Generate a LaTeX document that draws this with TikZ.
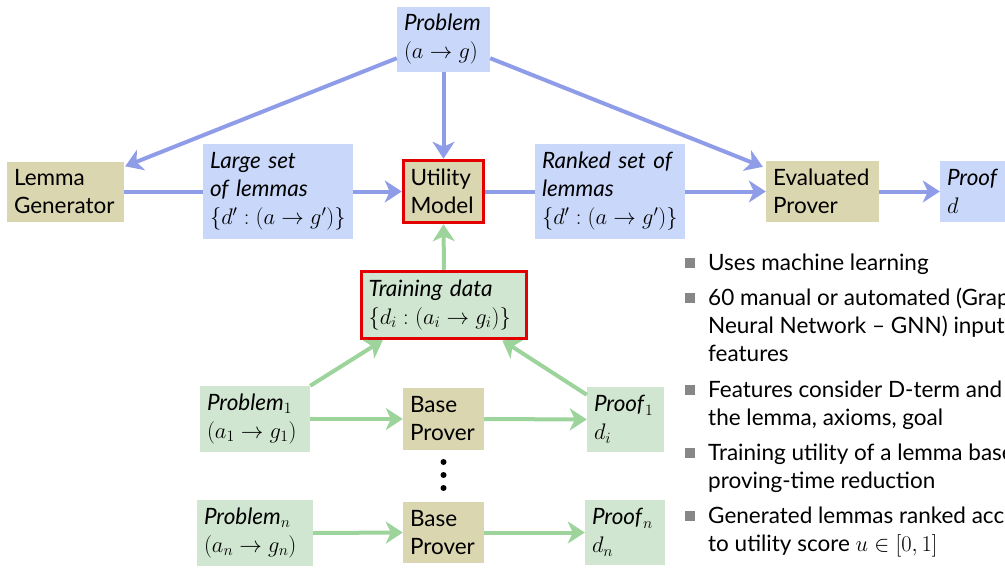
\RequirePackage{fix-cm}
\documentclass[tikz,border=0pt]{standalone}
\usepackage[no-math]{fontspec}
\setmainfont{Lato}
\usetikzlibrary{arrows.meta,calc}

\definecolor{boxblue}{RGB}{201,216,250}
\definecolor{boxgreen}{RGB}{208,230,208}
\definecolor{boxkhaki}{RGB}{218,214,176}
\definecolor{arrblue}{RGB}{143,156,232}
\definecolor{arrgreen}{RGB}{156,212,156}
\definecolor{hilite}{RGB}{226,0,0}
\definecolor{bulletgray}{RGB}{135,135,135}

\tikzset{
  every node/.style={font=\fontsize{22.5}{28}\selectfont},
  card/.style args={#1/#2}{rectangle, inner xsep=7pt, inner ysep=0pt,
    text width=#1pt-14pt, minimum height=#2pt, align=left},
  bluecard/.style={card=#1, fill=boxblue},
  greencard/.style={card=#1, fill=boxgreen},
  khakicard/.style={card=#1, fill=boxkhaki},
  keybox/.style={draw=hilite, line width=3.5pt},
  flow/.style={line width=4pt, draw=#1},
  flowarrow/.style={flow=#1, -{Stealth[length=17pt,width=22pt,inset=5pt]}},
  item/.style={anchor=base west, inner sep=0pt},
  itembullet/.style={fill=bulletgray, minimum size=10pt, inner sep=0pt}
}

\begin{document}
\begin{tikzpicture}[x=1pt,y=-1pt]
\useasboundingbox (0,0) rectangle (1005,568);
\clip (0,0) rectangle (1005,568);

% evaluation pipeline
\node[bluecard=93/65] (prob) at (443.5,39.5) {\textit{Problem}\\\mbox{$(a\to g)$}};
\node[khakicard=117/60] (lg) at (65.5,191.5) {Lemma\\Generator};
\node[bluecard=150/95] (ls) at (278,191.5) {\textit{Large set}\\\textit{of lemmas}\\\mbox{$\{d':(a\to g')\}$}};
\node[khakicard=80/62, keybox] (um) at (443.5,191.5) {Utility\\Model};
\node[bluecard=150/95] (rk) at (610,191.5) {\textit{Ranked set of}\\\textit{lemmas}\\\mbox{$\{d':(a\to g')\}$}};
\node[khakicard=113/61] (ev) at (822.5,191.5) {Evaluated\\Prover};
\node[bluecard=110/61] (pf) at (995,191.5) {\textit{Proof}\\$d$};

% training pipeline
\node[greencard=165/67, keybox] (td) at (444,305) {\textit{Training data}\\\mbox{$\{d_i:(a_i\to g_i)\}$}};
\node[greencard=110/66] (p1) at (255,419) {\textit{Problem}$_1$\\\mbox{$(a_1\to g_1)$}};
\node[khakicard=81/62] (b1) at (443.5,419) {Base\\Prover};
\node[greencard=77/65] (q1) at (625.5,419.5) {\textit{Proof}$_1$\\$d_i$};
\node[greencard=116/66] (pn) at (255,533) {\textit{Problem}$_n$\\\mbox{$(a_n\to g_n)$}};
\node[khakicard=81/61] (bn) at (443.5,532.5) {Base\\Prover};
\node[greencard=80/65] (qn) at (625,532.5) {\textit{Proof}$_n$\\$d_n$};

\foreach \k/\y in {1/462,2/475,3/488}
  \fill (443.5,\y) circle[radius=3pt];

% blue connectors
\draw[flowarrow=arrblue] ($(prob.south west)+(0,-14)$) -- ($(lg.north east)+(1,5)$);
\draw[flowarrow=arrblue] (prob.south) -- (um.north);
\draw[flowarrow=arrblue] ($(prob.south east)+(0,-14)$) -- ($(ev.north west)+(-3,6)$);
\draw[flow=arrblue] (lg.east) -- (ls.west);
\draw[flowarrow=arrblue] (ls.east) -- (um.west);
\draw[flow=arrblue] (um.east) -- (rk.west);
\draw[flowarrow=arrblue] (rk.east) -- (ev.west);
\draw[flowarrow=arrblue] (ev.east) -- (pf.west);

% green connectors
\draw[flowarrow=arrgreen] (td.north) -- (um.south);
\draw[flowarrow=arrgreen] (p1.north east) -- ($(td.south west)+(23,0)$);
\draw[flowarrow=arrgreen] ($(q1.north west)+(0,8)$) -- ($(td.south east)+(-26,0)$);
\draw[flowarrow=arrgreen] (p1.east) -- (b1.west);
\draw[flowarrow=arrgreen] (b1.east) -- (q1.west);
\draw[flowarrow=arrgreen] (pn.east) -- (bn.west);
\draw[flowarrow=arrgreen] (bn.east) -- (qn.west);

% notes
\foreach \n/\y in {1/263,2/298,3/390,4/453,5/516}
  \node[itembullet] (bul\n) at (690,\y) {};
\node[item] (t1) at (708,270) {Uses machine learning};
\node[item] (t2a) at (708,305) {60 manual or automated (Graph};
\node[item] (t2b) at (708,333) {Neural Network -- GNN) input};
\node[item] (t2c) at (708,361) {features};
\node[item] (t3a) at (708,397) {Features consider D-term and};
\node[item] (t3b) at (708,425) {the lemma, axioms, goal};
\node[item] (t4a) at (708,460) {Training utility of a lemma based on};
\node[item] (t4b) at (708,488) {proving-time reduction};
\node[item] (t5a) at (708,523) {Generated lemmas ranked according};
\node[item] (t5b) at (708,551) {to utility score $u\in[0,1]$};
\end{tikzpicture}
\end{document}
